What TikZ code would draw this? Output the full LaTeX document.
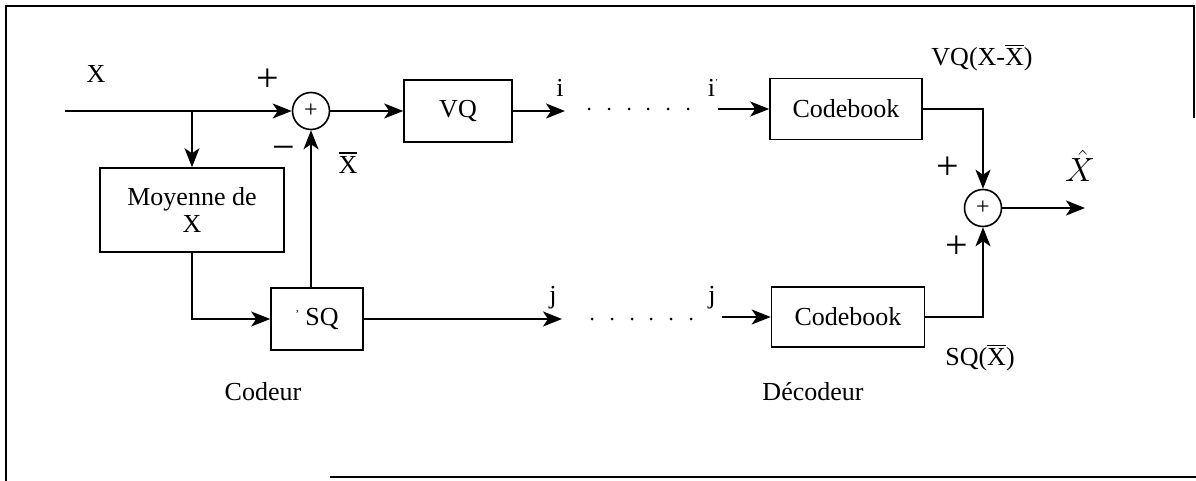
\documentclass[tikz,border=0pt]{standalone}
\usepackage{fontspec}
\setmainfont{Liberation Serif}
\usetikzlibrary{arrows.meta}
% capital X with a rule above it, set in the text font
\newcommand{\barX}{\vbox{\hrule height 1.3pt\kern 3pt\hbox{X}}}
\begin{document}
\begin{tikzpicture}[x=1pt,y=-1pt,
  blk/.style={draw, line width=1.6pt, inner sep=0pt, font=\fontsize{26}{30}\selectfont},
  sum/.style={draw, circle, line width=1.6pt, minimum size=37pt, inner sep=0pt,
              font=\fontsize{24}{24}\selectfont},
  sig/.style={line width=1.8pt, -{Stealth[length=19pt,width=15pt,inset=5pt]}},
  lbl/.style={inner sep=0pt, font=\fontsize{26}{30}\selectfont},
  sgn/.style={inner sep=0pt, font=\fontsize{40}{40}\selectfont},
  dot/.style={fill=black}]
\useasboundingbox (0,0) rectangle (1196,481);

% outer frame
\draw[line width=1.3pt] (1194,118) -- (1194,6) -- (6,6) -- (6,481);
\draw[line width=1.3pt] (330,477) -- (1196,477);

% encoder blocks
\node[sum] (s1) at (311,111) {+};
\node[blk, minimum width=108pt, minimum height=62pt] (vq) at (458,111) {VQ};
\node[blk, minimum width=184pt, minimum height=84pt, align=center] (moy) at (192,210)
  {Moyenne de\\[-3pt]X};
\node[blk, minimum width=92pt, minimum height=62pt] (sq) at (317,319)
  {\raisebox{7pt}{\fontsize{12}{12}\selectfont'}\hspace{6pt}SQ};

% decoder blocks
\node[blk, minimum width=152pt, minimum height=61pt] (cb1) at (846,109) {Codebook};
\node[blk, minimum width=153pt, minimum height=60pt] (cb2) at (848,317) {Codebook};
\node[sum] (s2) at (983,208) {+};

% free ends
\coordinate (xin) at (65,111);
\coordinate (br) at (moy.north |- xin);
\coordinate (iout) at (565,111);
\coordinate (jout) at (562,319);
\coordinate (iin) at (718,109);
\coordinate (jin) at (722,317);
\coordinate (xout) at (1085,208);

% encoder connections
\draw[sig] (xin) -- (s1.west);
\draw[sig] (br) -- (moy.north);
\draw[sig] (s1.east) -- (vq.west);
\draw[sig] (s1 |- sq.north) -- (s1.south);
\draw[sig] (moy.south) |- (sq.west);
\draw[sig] (vq.east) -- (iout);
\draw[sig] (sq.east) -- (jout);

% transmission channel
\foreach \x in {589,609,629,648,668,688} {
  \fill[dot] (\x,109) circle (1.5pt);
  \fill[dot] (\x+3,319) circle (1.5pt);
}

% decoder connections
\draw[sig] (iin) -- (cb1.west);
\draw[sig] (jin) -- (cb2.west);
\draw[sig] (cb1.east) -| (s2.north);
\draw[sig] (cb2.east) -| (s2.south);
\draw[sig] (s2.east) -- (xout);

% signal labels
\node[lbl] (lx) at (96,74) {X};
\node[sgn] (p1) at (268,80) {+};
\node[sgn] (m1) at (284,153) {−};
\node[lbl] (lxb) at (348,163) {\barX};
\node[lbl] (li) at (560,88) {i};
\node[lbl] (lip) at (713,88) {i\raisebox{11pt}{\fontsize{9}{9}\selectfont'}};
\node[lbl] (lj) at (553,298) {j};
\node[lbl] (ljp) at (712,298) {j};
\node[lbl] (lvq) at (982,58) {VQ(X-\barX)};
\node[sgn] (p2) at (948,168) {+};
\node[inner sep=0pt] (lxh) at (1080,166) {\scalebox{1.35}{\fontsize{26}{30}\selectfont$\hat{X}$}};
\node[sgn] (p3) at (957,247) {+};
\node[lbl] (lsq) at (980,358) {SQ(\barX)};
\node[lbl] (lcod) at (263,392) {Codeur};
\node[lbl] (ldec) at (813,392) {Décodeur};
\end{tikzpicture}
\end{document}
